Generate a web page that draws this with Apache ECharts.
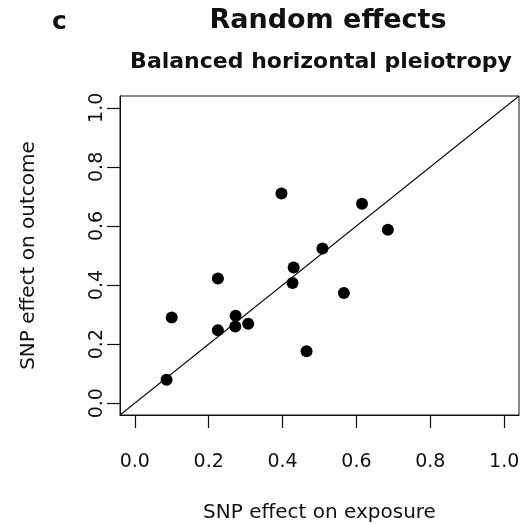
<!DOCTYPE html>
<html>
<head>
<meta charset="utf-8">
<script src="https://cdn.jsdelivr.net/npm/echarts@6/dist/echarts.min.js"></script>
<style>
  html, body { margin: 0; padding: 0; background: #fff; }
  #chart { width: 522px; height: 524px; }
</style>
</head>
<body>
<div id="chart"></div>
<script>
// SNP-level effect estimates (exposure, outcome)
const snpExposure = [0.086, 0.100, 0.225, 0.225, 0.273, 0.272, 0.307, 0.397, 0.427, 0.430, 0.465, 0.508, 0.566, 0.615, 0.685];
const snpOutcome  = [0.079, 0.290, 0.422, 0.247, 0.296, 0.260, 0.269, 0.710, 0.407, 0.459, 0.176, 0.524, 0.373, 0.675, 0.587];

// Shared axis range (4% padding on both sides) and tick values
const axisRange = [-0.04, 1.04];
const tickValues = [0.0, 0.2, 0.4, 0.6, 0.8, 1.0];

// Identity line y = x across the full range
const identityLine = [[axisRange[0], axisRange[0]], [axisRange[1], axisRange[1]]];

const FONT = 'DejaVu Sans';

const points = snpExposure.map((x, i) => [x, snpOutcome[i]]);

const chart = echarts.init(document.getElementById('chart'), null, { renderer: 'canvas' });

const axisCommon = {
  type: 'value',
  min: axisRange[0],
  max: axisRange[1],
  splitLine: { show: false },
  axisLine: { show: true, onZero: false, lineStyle: { color: '#111', width: 1 } },
  axisTick: {
    show: true,
    inside: false,
    length: 13,
    customValues: tickValues,
    lineStyle: { color: '#111', width: 1.2 }
  },
  nameLocation: 'middle',
  nameMoveOverlap: false,
  nameTextStyle: { fontFamily: FONT, fontSize: 20, color: '#111' }
};

chart.setOption({
  animation: false,
  backgroundColor: '#fff',
  title: [
    {
      text: 'c',
      left: 47, top: 5,
      textStyle: { fontFamily: FONT, fontWeight: 'bold', fontSize: 25, color: '#111' }
    },
    {
      text: 'Random effects',
      left: 323, top: 2, textAlign: 'center',
      textStyle: { fontFamily: FONT, fontWeight: 'bold', fontSize: 27, color: '#111' }
    },
    {
      text: 'Balanced horizontal pleiotropy',
      left: 316, top: 46, textAlign: 'center',
      textStyle: { fontFamily: FONT, fontWeight: 'bold', fontSize: 22, color: '#111' }
    }
  ],
  grid: {
    left: 120, top: 96, right: 3, bottom: 109,
    show: true,
    borderColor: '#111',
    borderWidth: 1,
    backgroundColor: 'transparent',
    outerBoundsMode: 'none',
    containLabel: false
  },
  xAxis: Object.assign({}, axisCommon, {
    name: 'SNP effect on exposure',
    nameGap: 88,
    axisLabel: {
      customValues: tickValues,
      margin: 38,
      fontFamily: FONT, fontSize: 19, color: '#111',
      formatter: v => v.toFixed(1)
    }
  }),
  yAxis: Object.assign({}, axisCommon, {
    name: 'SNP effect on outcome',
    nameGap: 81,
    axisLabel: {
      customValues: tickValues,
      margin: 13,
      rotate: 90,
      fontFamily: FONT, fontSize: 19, color: '#111',
      formatter: v => v.toFixed(1)
    }
  }),
  series: [
    {
      type: 'line',
      data: identityLine,
      symbol: 'none',
      silent: true,
      lineStyle: { color: '#111', width: 1.2 },
      z: 1
    },
    {
      type: 'scatter',
      data: points,
      symbol: 'circle',
      symbolSize: 12,
      itemStyle: { color: '#000', opacity: 1 },
      z: 2
    }
  ]
});
</script>
</body>
</html>
